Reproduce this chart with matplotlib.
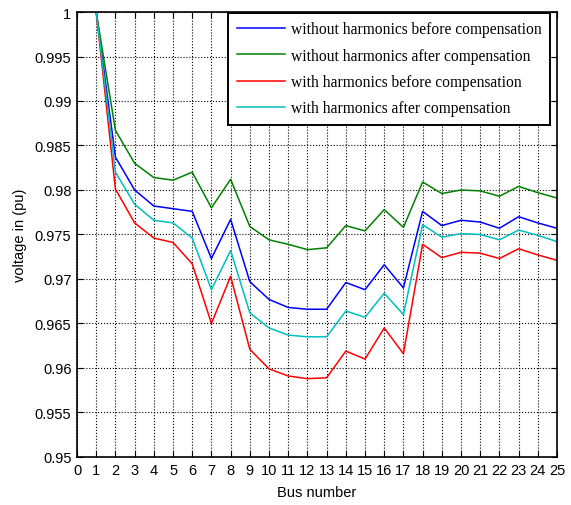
import numpy as np
import matplotlib
matplotlib.use("Agg")
import matplotlib.pyplot as plt

bus = list(range(1, 26))

# without harmonics before compensation
v_noharm_before = [1.0, 0.9837, 0.9800, 0.9782, 0.9779, 0.9776, 0.9723, 0.9767, 0.9697,
                   0.9677, 0.9668, 0.9666, 0.9666, 0.9696, 0.9688, 0.9716, 0.9690,
                   0.9776, 0.9760, 0.9766, 0.9764, 0.9757, 0.9770, 0.9763, 0.9757]
# without harmonics after compensation
v_noharm_after = [1.0, 0.9867, 0.9830, 0.9814, 0.9811, 0.9820, 0.9780, 0.9812, 0.9759,
                  0.9744, 0.9739, 0.9733, 0.9735, 0.9760, 0.9754, 0.9778, 0.9758,
                  0.9809, 0.9796, 0.9800, 0.9799, 0.9793, 0.9804, 0.9797, 0.9791]
# with harmonics before compensation
v_harm_before = [1.0, 0.9801, 0.9763, 0.9746, 0.9741, 0.9717, 0.9650, 0.9703, 0.9621,
                 0.9599, 0.9591, 0.9588, 0.9589, 0.9619, 0.9610, 0.9645, 0.9616,
                 0.9739, 0.9724, 0.9730, 0.9729, 0.9723, 0.9734, 0.9727, 0.9721]
# with harmonics after compensation
v_harm_after = [1.0, 0.9820, 0.9784, 0.9766, 0.9763, 0.9746, 0.9688, 0.9732, 0.9662,
                0.9645, 0.9637, 0.9635, 0.9635, 0.9664, 0.9657, 0.9684, 0.9660,
                0.9761, 0.9747, 0.9751, 0.9750, 0.9744, 0.9755, 0.9749, 0.9742]

labels = ['without harmonics before compensation',
          'without harmonics after compensation',
          'with harmonics before compensation',
          'with harmonics after compensation']
colors = ['#0000ff', '#008000', '#ff0000', '#00bfbf']

plt.rcParams['font.family'] = ['Liberation Sans', 'DejaVu Sans']

fig = plt.figure(figsize=(5.71, 5.06), dpi=100)
ax = fig.add_axes([0.1349, 0.0949, 0.8406, 0.8794])

for ys, c, lab in zip([v_noharm_before, v_noharm_after, v_harm_before, v_harm_after], colors, labels):
    ax.plot(bus, ys, color=c, lw=1.1, label=lab)

ax.set_xlim(0, 25)
ax.set_ylim(0.95, 1.0)
ax.set_xticks(np.arange(0, 26, 1))
ax.set_yticks(np.arange(0.95, 1.0001, 0.005))
ax.set_yticklabels(['0.95', '0.955', '0.96', '0.965', '0.97', '0.975', '0.98',
                    '0.985', '0.99', '0.995', '1'])
ax.tick_params(direction='in', top=True, right=True, labelsize=10.5, length=4, pad=4)
ax.grid(True, color='black', linestyle=':', linewidth=0.8)
for s in ax.spines.values():
    s.set_linewidth(1.2)

ax.set_xlabel('Bus number', fontsize=10.5, labelpad=6)
ax.set_ylabel('voltage in (pu)', fontsize=10.5, labelpad=6)

leg = ax.legend(loc='upper right', bbox_to_anchor=(0.985, 0.998), borderaxespad=0,
                fancybox=False, framealpha=1, edgecolor='black', handlelength=3.1,
                prop={'family': 'Liberation Serif', 'size': 11.2},
                borderpad=0.55, labelspacing=0.66, handletextpad=0.35)
leg.get_frame().set_linewidth(1.4)

fig.savefig('out.png', dpi=100)
